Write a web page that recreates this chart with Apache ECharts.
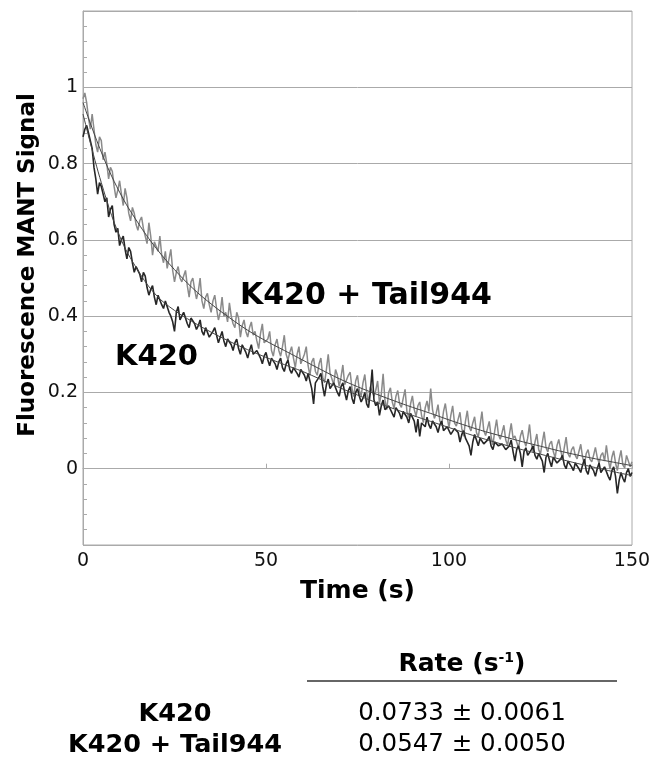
<!DOCTYPE html>
<html>
<head>
<meta charset="utf-8">
<script src="https://cdn.jsdelivr.net/npm/echarts@6/dist/echarts.min.js"></script>
<style>
  html, body { margin: 0; padding: 0; background: #fff; }
  #chart { width: 663px; height: 761px; }
</style>
</head>
<body>
<div id="chart"></div>
<script>
// sampled traces, one value every 0.5 s from 0 to 150 s
const dt = 0.5;
const tailData = [
  0.97, 0.985, 0.96, 0.92, 0.89, 0.93, 0.89, 0.85, 0.83, 0.87,
  0.86, 0.81, 0.83, 0.80, 0.76, 0.79, 0.78, 0.74, 0.71, 0.73,
  0.755, 0.72, 0.69, 0.735, 0.71, 0.67, 0.65, 0.685, 0.67, 0.64,
  0.625, 0.65, 0.66, 0.63, 0.61, 0.59, 0.645, 0.61, 0.56, 0.595,
  0.60, 0.57, 0.61, 0.56, 0.54, 0.57, 0.525, 0.55, 0.575, 0.52,
  0.49, 0.515, 0.53, 0.50, 0.49, 0.505, 0.52, 0.48, 0.45, 0.49,
  0.50, 0.47, 0.445, 0.465, 0.50, 0.44, 0.42, 0.45, 0.46, 0.43,
  0.41, 0.44, 0.455, 0.42, 0.39, 0.41, 0.45, 0.40, 0.41, 0.385,
  0.435, 0.40, 0.38, 0.37, 0.41, 0.395, 0.345, 0.375, 0.39, 0.36,
  0.345, 0.37, 0.385, 0.35, 0.36, 0.335, 0.315, 0.355, 0.38, 0.33,
  0.325, 0.34, 0.36, 0.31, 0.295, 0.325, 0.34, 0.31, 0.295, 0.32,
  0.35, 0.30, 0.285, 0.305, 0.32, 0.29, 0.265, 0.30, 0.32, 0.275,
  0.275, 0.30, 0.32, 0.27, 0.245, 0.28, 0.29, 0.255, 0.245, 0.275,
  0.29, 0.24, 0.225, 0.26, 0.30, 0.25, 0.236, 0.22, 0.26, 0.245,
  0.216, 0.24, 0.272, 0.22, 0.218, 0.245, 0.253, 0.21, 0.189, 0.23,
  0.245, 0.205, 0.191, 0.225, 0.247, 0.20, 0.174, 0.215, 0.22, 0.19,
  0.206, 0.23, 0.172, 0.195, 0.249, 0.18, 0.155, 0.20, 0.212, 0.175,
  0.158, 0.19, 0.205, 0.17, 0.161, 0.185, 0.208, 0.15, 0.134, 0.17,
  0.191, 0.155, 0.138, 0.165, 0.175, 0.14, 0.121, 0.16, 0.178, 0.15,
  0.21, 0.155, 0.132, 0.145, 0.168, 0.125, 0.115, 0.15, 0.171, 0.135,
  0.108, 0.14, 0.165, 0.12, 0.112, 0.13, 0.148, 0.105, 0.085, 0.125,
  0.152, 0.11, 0.099, 0.12, 0.136, 0.095, 0.083, 0.115, 0.15, 0.10,
  0.087, 0.105, 0.124, 0.085, 0.062, 0.10, 0.129, 0.09, 0.077, 0.095,
  0.114, 0.075, 0.061, 0.09, 0.119, 0.08, 0.086, 0.07, 0.054, 0.085,
  0.101, 0.075, 0.059, 0.08, 0.116, 0.065, 0.044, 0.07, 0.091, 0.05,
  0.039, 0.07, 0.097, 0.055, 0.044, 0.065, 0.072, 0.045, 0.029, 0.06,
  0.077, 0.05, 0.025, 0.055, 0.083, 0.04, 0.03, 0.05, 0.058, 0.035,
  0.026, 0.045, 0.064, 0.03, 0.012, 0.04, 0.05, 0.025, 0.018, 0.035,
  0.056, 0.03, 0.014, 0.035, 0.042, 0.02, 0.061, 0.025, -0.001, 0.03,
  0.047, 0.015, -0.005, 0.025, 0.048, 0.01, 0.002, 0.035, 0.03, 0.005,
  0.018
];
const k420Data = [
  0.87, 0.89, 0.90, 0.88, 0.86, 0.84, 0.79, 0.76, 0.72, 0.75,
  0.74, 0.72, 0.70, 0.71, 0.66, 0.68, 0.69, 0.64, 0.62, 0.63,
  0.585, 0.60, 0.61, 0.575, 0.55, 0.58, 0.57, 0.54, 0.515, 0.53,
  0.535, 0.51, 0.49, 0.515, 0.505, 0.475, 0.455, 0.47, 0.48, 0.45,
  0.43, 0.455, 0.46, 0.43, 0.42, 0.44, 0.445, 0.41, 0.40, 0.385,
  0.36, 0.41, 0.425, 0.39, 0.395, 0.41, 0.415, 0.38, 0.37, 0.395,
  0.40, 0.38, 0.365, 0.375, 0.39, 0.36, 0.35, 0.37, 0.375, 0.345,
  0.34, 0.36, 0.37, 0.35, 0.33, 0.345, 0.36, 0.335, 0.32, 0.34,
  0.345, 0.325, 0.31, 0.33, 0.34, 0.315, 0.30, 0.325, 0.33, 0.305,
  0.29, 0.31, 0.325, 0.30, 0.295, 0.31, 0.315, 0.29, 0.275, 0.295,
  0.305, 0.285, 0.27, 0.29, 0.295, 0.275, 0.26, 0.28, 0.29, 0.265,
  0.255, 0.275, 0.285, 0.26, 0.25, 0.265, 0.27, 0.25, 0.24, 0.26,
  0.265, 0.245, 0.23, 0.25, 0.245, 0.21, 0.17, 0.225, 0.22, 0.24,
  0.25, 0.215, 0.19, 0.22, 0.235, 0.21, 0.205, 0.225, 0.23, 0.20,
  0.19, 0.215, 0.225, 0.20, 0.18, 0.205, 0.215, 0.185, 0.17, 0.20,
  0.21, 0.19, 0.175, 0.185, 0.20, 0.17, 0.16, 0.20, 0.26, 0.18,
  0.165, 0.175, 0.14, 0.165, 0.18, 0.155, 0.15, 0.165, 0.17, 0.145,
  0.135, 0.16, 0.165, 0.145, 0.13, 0.15, 0.155, 0.135, 0.12, 0.145,
  0.15, 0.125, 0.095, 0.13, 0.085, 0.12, 0.12, 0.11, 0.135, 0.115,
  0.105, 0.125, 0.13, 0.11, 0.095, 0.115, 0.125, 0.10, 0.10, 0.11,
  0.115, 0.09, 0.085, 0.105, 0.11, 0.095, 0.07, 0.09, 0.10, 0.08,
  0.075, 0.06, 0.035, 0.07, 0.09, 0.075, 0.06, 0.08, 0.085, 0.065,
  0.065, 0.075, 0.085, 0.06, 0.05, 0.07, 0.075, 0.06, 0.055, 0.065,
  0.07, 0.05, 0.045, 0.06, 0.075, 0.045, 0.02, 0.05, 0.06, 0.04,
  0.005, 0.045, 0.055, 0.035, 0.03, 0.05, 0.06, 0.035, 0.025, 0.04,
  0.045, 0.02, -0.01, 0.03, 0.04, 0.02, 0.005, 0.03, 0.035, 0.015,
  0.01, 0.025, 0.035, 0.01, 0.0, 0.02, 0.025, 0.005, -0.005, 0.015,
  0.02, 0.0, -0.01, 0.01, 0.025, -0.005, -0.015, 0.01, 0.01, -0.005,
  -0.02, 0.0, 0.015, -0.01, -0.015, 0.005, 0.005, -0.02, -0.03, -0.005,
  0.005, -0.02, -0.065, -0.03, -0.01, -0.025, -0.035, -0.01, 0.0, -0.02,
  -0.01
];

// fitted curves read every 5 s
const fitDt = 5;
const tailFit = [0.96, 0.83, 0.725, 0.645, 0.578, 0.522, 0.473, 0.432, 0.396, 0.363, 0.335,
  0.31, 0.285, 0.26, 0.236, 0.215, 0.196, 0.178, 0.161, 0.145, 0.128,
  0.112, 0.097, 0.084, 0.071, 0.059, 0.047, 0.036, 0.026, 0.017, 0.008];
const k420Fit = [0.93, 0.75, 0.61, 0.52, 0.455, 0.415, 0.385, 0.358, 0.334, 0.312, 0.292,
  0.273, 0.255, 0.234, 0.213, 0.193, 0.174, 0.157, 0.14, 0.124, 0.108,
  0.092, 0.077, 0.063, 0.05, 0.038, 0.026, 0.014, 0.003, -0.008, -0.018];

const tableRows = ['K420', 'K420 + Tail944'];
const tableRates = ['0.0733 ± 0.0061', '0.0547 ± 0.0050'];

function toPairs(arr, step) {
    return arr.map((v, i) => [i * step, v]);
}

const FONT = 'DejaVu Sans';
const myChart = echarts.init(document.getElementById('chart'), null, { renderer: 'canvas' });

const traceLine = (name, data, color, width) => ({
    name: name,
    type: 'line',
    data: toPairs(data, dt),
    showSymbol: false,
    symbol: 'none',
    silent: true,
    lineStyle: { color: color, width: width },
    z: 2
});
const fitLine = (name, data) => ({
    name: name,
    type: 'line',
    data: toPairs(data, fitDt),
    smooth: 0.4,
    symbol: 'none',
    silent: true,
    lineStyle: { color: '#444', width: 1 },
    z: 3
});

const graphics = [
    { type: 'text', left: 240, top: 281, style: { text: 'K420 + Tail944', font: 'bold 30px ' + FONT, fill: '#000' } },
    { type: 'text', left: 115, top: 343, style: { text: 'K420', font: 'bold 29px ' + FONT, fill: '#000' } },
    { type: 'text', x: 28, y: 265, rotation: Math.PI / 2,
      style: { text: 'Fluorescence MANT Signal', font: 'bold 23px ' + FONT, fill: '#000', align: 'center', verticalAlign: 'middle' } },
    { type: 'text', x: 462, y: 664,
      style: { text: '{a|Rate (s}{s|-1}{a|)}', align: 'center', verticalAlign: 'middle',
        rich: {
            a: { font: 'bold 25px ' + FONT, fill: '#000' },
            s: { font: 'bold 14px ' + FONT, fill: '#000', verticalAlign: 'top', padding: [0, 0, 10, 0] }
        } } },
    { type: 'line', shape: { x1: 307, y1: 681, x2: 617, y2: 681 }, style: { stroke: '#333', lineWidth: 1.5 } }
];
tableRows.forEach((row, i) => {
    graphics.push({ type: 'text', x: 175, y: 714 + i * 31,
        style: { text: row, font: 'bold 25.5px ' + FONT, fill: '#000', align: 'center', verticalAlign: 'middle' } });
    graphics.push({ type: 'text', x: 462, y: 714 + i * 31,
        style: { text: tableRates[i], font: '24.5px ' + FONT, fill: '#000', align: 'center', verticalAlign: 'middle' } });
});

const option = {
    animation: false,
    backgroundColor: '#fff',
    grid: { left: 83, right: 31, top: 11, bottom: 216, show: true, borderColor: '#aaa', borderWidth: 1 },
    xAxis: {
        type: 'value',
        min: 0, max: 150, interval: 50,
        name: 'Time (s)',
        nameLocation: 'middle',
        nameGap: 34,
        nameTextStyle: { fontFamily: FONT, fontWeight: 'bold', fontSize: 25, color: '#000' },
        axisLine: { lineStyle: { color: '#aaa' } },
        axisTick: { inside: true, length: 5, lineStyle: { color: '#aaa' } },
        splitLine: { show: false },
        axisLabel: { fontFamily: FONT, fontSize: 19, color: '#111', margin: 7 }
    },
    yAxis: {
        type: 'value',
        min: -0.2, max: 1.2, interval: 0.2,
        axisLine: { show: true, lineStyle: { color: '#aaa' } },
        axisTick: { show: true, inside: true, length: 4, lineStyle: { color: '#aaa' } },
        minorTick: { show: true, splitNumber: 5, length: 4, lineStyle: { color: '#aaa' } },
        splitLine: { show: true, lineStyle: { color: '#aaa', width: 1 } },
        axisLabel: {
            fontFamily: FONT, fontSize: 19, color: '#111', margin: 5,
            formatter: v => (v < -0.01 || v > 1.01) ? '' : String(Math.round(v * 10) / 10)
        }
    },
    graphic: graphics,
    series: [
        traceLine('K420 + Tail944', tailData, '#8a8a8a', 1.5),
        traceLine('K420', k420Data, '#262626', 1.6),
        fitLine('K420 + Tail944 fit', tailFit),
        fitLine('K420 fit', k420Fit)
    ]
};
myChart.setOption(option);
</script>
</body>
</html>
